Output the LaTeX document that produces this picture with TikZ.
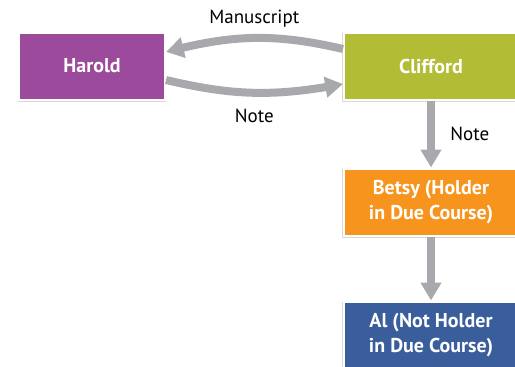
\documentclass[tikz,border=0pt]{standalone}
\usepackage{fontspec}
\setmainfont{PT Sans}
\usepackage{tikz}
\usetikzlibrary{arrows.meta, % arrow tips
                bending      % bent tips on the arcs
               }
\usetikzlibrary{shadows}
\usetikzlibrary{positioning}

\definecolor{haroldc}{HTML}{9C4A9B}
\definecolor{cliffordc}{HTML}{B3BC35}
\definecolor{betsyc}{HTML}{F7941D}
\definecolor{alc}{HTML}{3A5D9C}
\definecolor{arrowc}{HTML}{A7A9AC}

\tikzset{party/.style={draw=white, line width=2pt, text=white, font=\fontsize{20}{25}\selectfont\bfseries,
                       align=center, minimum height=67pt,
                       drop shadow={shadow xshift=0pt, shadow yshift=-1.5pt, shadow scale=1.02, opacity=.3}}}

\begin{document}
\begin{tikzpicture}[x=1pt, y=1pt, node distance=66pt and 177pt, auto,
		every edge/.style={draw, arrowc, line width=8pt, -{Triangle[length=18pt, width=20pt, bend]}},
		lbl/.style={font=\fontsize{19}{22}\selectfont, text=black}]

		\useasboundingbox (0,0) rectangle (515,-367);

		% Nodes
		\node[party, fill=haroldc, minimum width=146pt] (harold) at (92,-66) {Harold};
		\node[party, fill=cliffordc, minimum width=174pt] (clifford) [right=of harold] {Clifford};
		\node[party, fill=betsyc, minimum width=174pt] (betsy) [below=67pt of clifford] {Betsy (Holder\\in Due Course)};
		\node[party, fill=alc, minimum width=174pt] (al) [below=64pt of betsy] {Al (Not Holder\\in Due Course)};

		% Edges
		\draw ([yshift=17pt]clifford.west) edge[bend right=14] node[lbl, above=3pt] {Manuscript} ([yshift=14pt]harold.east);
		\draw ([yshift=-14pt]harold.east) edge[bend right=12] node[lbl, below=9pt] {Note} ([yshift=-18pt]clifford.west);
		\draw (clifford) edge node[lbl, right=12pt] {Note} (betsy);
		\draw (betsy) edge (al);
	\end{tikzpicture}
\end{document}
